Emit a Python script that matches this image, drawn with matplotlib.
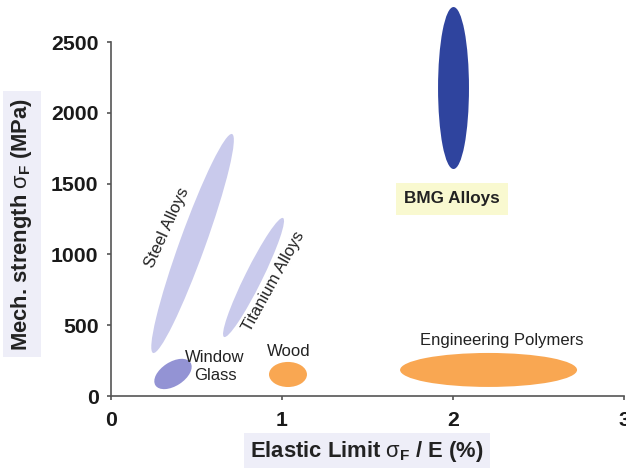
import numpy as np
import matplotlib
matplotlib.use("Agg")
import matplotlib.pyplot as plt
from matplotlib.patches import Ellipse
from matplotlib.transforms import IdentityTransform

plt.rcParams['font.family'] = ['Liberation Sans', 'DejaVu Sans']
plt.rcParams['mathtext.fontset'] = 'custom'
plt.rcParams['mathtext.rm'] = 'Liberation Sans'
plt.rcParams['mathtext.it'] = 'Liberation Sans'
plt.rcParams['mathtext.bf'] = 'Liberation Sans:bold'

# --- data (elastic limit %, strength MPa) ---
# tilted regions: two tips in data coordinates + width/length ratio
tilted_names = ["Steel Alloys", "Titanium Alloys", "Window Glass"]
tilted_tip1 = [(0.246, 304), (0.661, 417), (0.260, 75)]
tilted_tip2 = [(0.708, 1850), (1.006, 1257), (0.465, 236)]
tilted_ratio = [0.11, 0.13, 0.57]
tilted_colors = ["#c9caec", "#c9caec", "#9393d4"]

# axis-aligned regions: center x, center y, width, height
upright_names = ["Wood", "Engineering Polymers", "BMG Alloys"]
upright_cx = [1.035, 2.208, 2.003]
upright_cy = [152, 184, 2175]
upright_w = [0.222, 1.035, 0.181]
upright_h = [177, 240, 1144]
upright_colors = ["#f9a752", "#f9a752", "#2f449e"]

xticks = [0, 1, 2, 3]
yticks = [0, 500, 1000, 1500, 2000, 2500]

fig = plt.figure(figsize=(6.26, 4.68), dpi=100)
ax = fig.add_axes([111/626, 72/468, 513/626, 354/468])
ax.set_xlim(0, 3)
ax.set_ylim(0, 2500)

for s in ['top', 'right']:
    ax.spines[s].set_visible(False)
for s in ['left', 'bottom']:
    ax.spines[s].set_color('#555555')
    ax.spines[s].set_linewidth(1.2)
ax.set_xticks(xticks)
ax.set_yticks(yticks)
ax.tick_params(direction='out', length=3, width=1.2, color='#555555',
               labelsize=15.3, pad=6)
ax.tick_params(axis='x', pad=8)
for lab in ax.get_xticklabels() + ax.get_yticklabels():
    lab.set_fontweight('bold')
    lab.set_color('#1a1a1a')

# tilted ellipses built in display space from data tips
for p1, p2, r, c in zip(tilted_tip1, tilted_tip2, tilted_ratio, tilted_colors):
    d1 = ax.transData.transform(p1)
    d2 = ax.transData.transform(p2)
    ctr = (d1 + d2) / 2
    L = np.hypot(*(d2 - d1))
    ang = np.degrees(np.arctan2(d2[1] - d1[1], d2[0] - d1[0]))
    e = Ellipse(ctr, L, L * r, angle=ang, facecolor=c, edgecolor='none',
                transform=IdentityTransform(), clip_on=False)
    ax.add_artist(e)

for x, y, w, h, c in zip(upright_cx, upright_cy, upright_w, upright_h, upright_colors):
    e = Ellipse((x, y), w, h, facecolor=c, edgecolor='none', clip_on=False)
    ax.add_patch(e)

def px(xp, yp):
    # figure pixel (from top-left) -> figure fraction
    return xp / 626, 1 - yp / 468

tc = '#222222'
fs = 12
fig.text(*px(167.5, 227.5), "Steel Alloys", rotation=65.5, ha='center', va='center',
         fontsize=fs, color=tc, rotation_mode='anchor')
fig.text(*px(273.5, 281.5), "Titanium Alloys", rotation=61, ha='center', va='center',
         fontsize=fs, color=tc, rotation_mode='anchor')
fig.text(*px(215, 367), "Window\nGlass", ha='center', va='center',
         fontsize=fs, color=tc, linespacing=1.25)
fig.text(*px(289, 351), "Wood", ha='center', va='center', fontsize=fs, color=tc)
fig.text(*px(502, 340), "Engineering Polymers", ha='center', va='center',
         fontsize=fs, color=tc)
fig.text(*px(452, 199), "BMG Alloys", ha='center', va='center', fontsize=12.3,
         fontweight='bold', color=tc,
         bbox=dict(boxstyle='square,pad=0.5', facecolor='#f9f9d0', edgecolor='none'))

fig.text(*px(22, 224), r"Mech. strength $\sigma_{\mathbf{F}}$ (MPa)", rotation=90,
         ha='center', va='center', fontsize=15.8, fontweight='bold', color=tc,
         bbox=dict(boxstyle='square,pad=0.3', facecolor='#eeeef8', edgecolor='none'))
fig.text(*px(367, 452), r"Elastic Limit $\sigma_{\mathbf{F}}$ / E (%)",
         ha='center', va='center', fontsize=15.8, fontweight='bold', color=tc,
         bbox=dict(boxstyle='square,pad=0.3', facecolor='#eeeef8', edgecolor='none'))

fig.savefig("out.png", dpi=100)
